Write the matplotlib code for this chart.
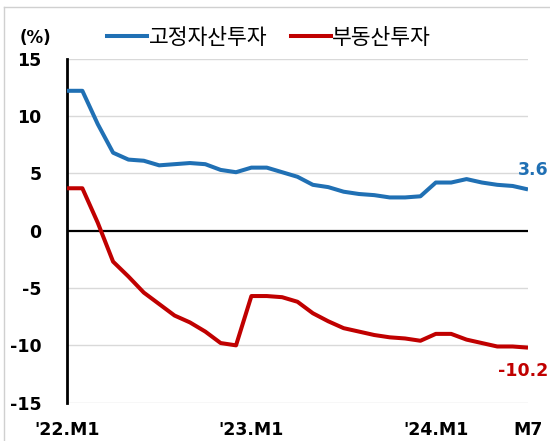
import matplotlib
matplotlib.use("Agg")
import matplotlib.pyplot as plt
from matplotlib.lines import Line2D

plt.rcParams['font.family'] = ['DejaVu Sans', 'Noto Sans CJK KR']

# Monthly cumulative YoY growth (%), Jan 2022 - Jul 2024
months = list(range(31))
fixed_asset = [12.2, 12.2, 9.3, 6.8, 6.2, 6.1, 5.7, 5.8, 5.9, 5.8, 5.3, 5.1,
               5.5, 5.5, 5.1, 4.7, 4.0, 3.8, 3.4, 3.2, 3.1, 2.9, 2.9, 3.0,
               4.2, 4.2, 4.5, 4.2, 4.0, 3.9, 3.6]
real_estate = [3.7, 3.7, 0.7, -2.7, -4.0, -5.4, -6.4, -7.4, -8.0, -8.8, -9.8, -10.0,
               -5.7, -5.7, -5.8, -6.2, -7.2, -7.9, -8.5, -8.8, -9.1, -9.3, -9.4, -9.6,
               -9.0, -9.0, -9.5, -9.8, -10.1, -10.1, -10.2]
series_names = ['고정자산투자', '부동산투자']
tick_pos = [0, 12, 24, 30]
tick_labels = ["'22.M1", "'23.M1", "'24.M1", "M7"]
y_ticks = [-15, -10, -5, 0, 5, 10, 15]

BLUE = '#2070b4'
RED = '#c00000'

fig = plt.figure(figsize=(5.5, 4.41), dpi=100)
ax = fig.add_axes([0.1218, 0.0869, 0.9600 - 0.1218, 0.8669 - 0.0869])

ax.set_xlim(0, 30)
ax.set_ylim(-15, 15)

for y in y_ticks:
    if y != 0:
        ax.axhline(y, color='#d9d9d9', lw=1.0, zorder=1)
ax.axhline(0, color='black', lw=1.6, zorder=2)

ax.plot(months, fixed_asset, color=BLUE, lw=2.9, solid_joinstyle='round',
        solid_capstyle='butt', zorder=3)
ax.plot(months, real_estate, color=RED, lw=2.9, solid_joinstyle='round',
        solid_capstyle='butt', zorder=3)

for s in ['top', 'right', 'bottom']:
    ax.spines[s].set_visible(False)
ax.spines['left'].set_linewidth(2.0)
ax.spines['left'].set_color('black')

ax.set_yticks(y_ticks)
ax.set_yticklabels([str(v) for v in y_ticks], fontsize=12.5, fontweight='bold')
ax.set_xticks(tick_pos)
ax.set_xticklabels(tick_labels, fontsize=12.5, fontweight='bold')
ax.tick_params(axis='y', length=0, pad=18.5)
ax.tick_params(axis='x', length=0, pad=13.5)

# end-of-series value labels
ax.annotate(f"{fixed_asset[-1]:.1f}", xy=(30, fixed_asset[-1]), xytext=(15, 14),
            textcoords='offset points', ha='right', va='center',
            fontsize=12.5, fontweight='bold', color=BLUE, annotation_clip=False)
ax.annotate(f"{real_estate[-1]:.1f}", xy=(30, real_estate[-1]), xytext=(14.5, -17),
            textcoords='offset points', ha='right', va='center',
            fontsize=12.5, fontweight='bold', color=RED, annotation_clip=False)

handles = [Line2D([0], [0], color=BLUE, lw=2.9),
           Line2D([0], [0], color=RED, lw=2.9)]
fig.legend(handles, series_names, loc='center', bbox_to_anchor=(0.489, 0.914),
           ncol=2, frameon=False, handlelength=1.86, handletextpad=0.05,
           columnspacing=1.1, prop={'family': 'Noto Sans CJK KR', 'size': 15.5})

fig.text(20 / 550, 1 - 38 / 441, '(%)', fontsize=12, fontweight='bold',
         ha='left', va='center')

# thin frame along the left and top edges
fig.add_artist(Line2D([4 / 550, 4 / 550], [0, 1 - 7 / 441], color='#d0d0d0', lw=1,
                      transform=fig.transFigure))
fig.add_artist(Line2D([4 / 550, 1], [1 - 7 / 441, 1 - 7 / 441], color='#d0d0d0', lw=1,
                      transform=fig.transFigure))

fig.savefig('out.png', dpi=100)
